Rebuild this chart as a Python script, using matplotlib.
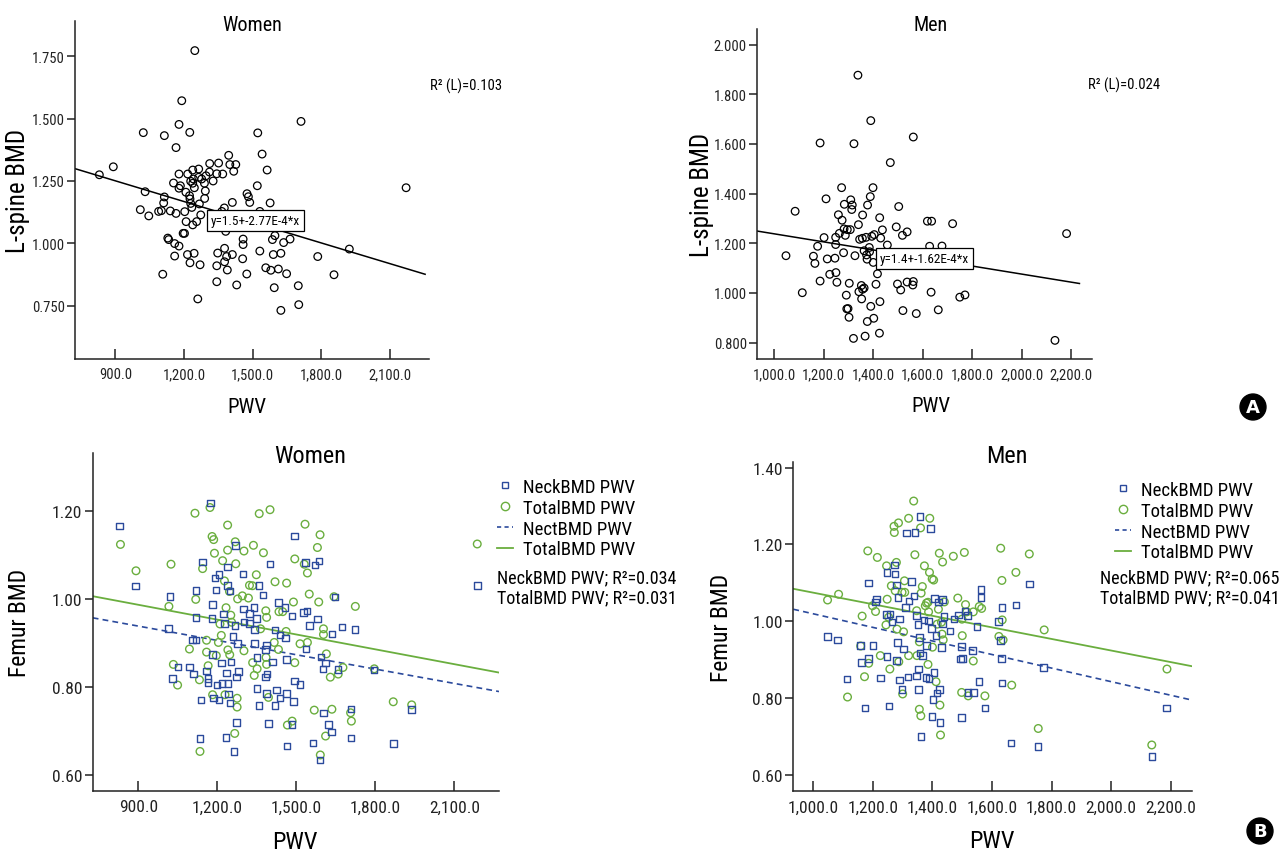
import numpy as np
import matplotlib.pyplot as plt
from matplotlib import font_manager
from matplotlib.lines import Line2D
from matplotlib.ticker import FuncFormatter

# the original uses a condensed sans; take whatever narrow face is installed
_names = {f.name for f in font_manager.fontManager.ttflist}
_stretches = {(f.name, f.stretch) for f in font_manager.fontManager.ttflist}
FONT = None
for cand in ["Liberation Sans Narrow", "Roboto Condensed", "Arial Narrow",
             "Open Sans Condensed", "DejaVu Sans Condensed", "Noto Sans Condensed"]:
    if cand in _names:
        FONT = cand
        break
if FONT is None:
    for name, stretch in sorted(_stretches):
        if stretch in ("condensed", "semi-condensed", 300, 400, 450) and "CJK" not in name:
            FONT = name
            plt.rcParams["font.stretch"] = stretch
            break
if FONT is None:
    FONT = "DejaVu Sans"
plt.rcParams["font.family"] = [FONT, "DejaVu Sans"]

# (PWV, BMD) pairs
women_lspine = np.array([
    (830, 1.275), (891, 1.307), (1022, 1.444), (1030, 1.207), (1009, 1.135), (1046, 1.110),
    (1089, 1.128), (1101, 1.131), (1114, 1.432), (1114, 1.186), (1111, 1.162), (1129, 1.021),
    (1133, 1.015), (1107, 0.876), (1140, 1.130), (1154, 1.242), (1165, 1.120), (1165, 1.384),
    (1159, 0.999), (1159, 0.949), (1178, 0.989), (1178, 1.477), (1178, 1.278), (1178, 1.221),
    (1184, 1.231), (1190, 1.572), (1196, 1.040), (1202, 1.040), (1203, 1.127), (1209, 1.087),
    (1208, 1.205), (1215, 0.955), (1216, 1.278), (1225, 1.445), (1224, 1.191), (1226, 1.178),
    (1229, 1.249), (1229, 1.160), (1234, 1.144), (1226, 0.922), (1238, 1.294), (1238, 1.241),
    (1241, 1.258), (1245, 1.223), (1247, 1.773), (1238, 1.074), (1244, 0.960), (1255, 1.087),
    (1260, 0.777), (1264, 1.298), (1264, 1.265), (1267, 1.158), (1270, 0.914), (1273, 1.114),
    (1277, 1.258), (1289, 1.241), (1293, 1.210), (1290, 1.180), (1296, 1.271), (1312, 1.320),
    (1311, 1.286), (1327, 1.250), (1343, 1.279), (1351, 1.322), (1369, 1.278), (1343, 0.910),
    (1343, 0.846), (1347, 0.961), (1365, 1.128), (1376, 1.142), (1377, 0.980), (1382, 1.048),
    (1377, 0.926), (1386, 0.947), (1389, 0.893), (1395, 1.353), (1400, 1.316), (1411, 1.164),
    (1411, 0.955), (1417, 1.289), (1426, 1.316), (1430, 0.833), (1456, 0.938), (1458, 1.017),
    (1458, 0.995), (1474, 0.877), (1475, 1.199), (1481, 1.187), (1487, 1.164), (1520, 1.231),
    (1522, 1.443), (1541, 1.358), (1531, 0.969), (1557, 0.902), (1563, 1.294), (1576, 1.162),
    (1579, 0.892), (1586, 1.015), (1590, 0.955), (1597, 1.031), (1594, 0.822), (1612, 0.897),
    (1623, 0.960), (1623, 0.731), (1635, 1.003), (1648, 0.878), (1663, 1.017), (1699, 0.830),
    (1701, 0.754), (1711, 1.489), (1784, 0.947), (1855, 0.874), (1922, 0.977), (2170, 1.223),
    (1531, 1.128),
])

men_lspine = np.array([
    (1047, 1.150), (1084, 1.329), (1113, 1.001), (1158, 1.148), (1164, 1.119), (1175, 1.188),
    (1185, 1.048), (1185, 1.604), (1201, 1.223), (1209, 1.379), (1214, 1.137), (1224, 1.075),
    (1245, 1.140), (1248, 1.224), (1248, 1.195), (1249, 1.082), (1253, 1.043), (1259, 1.315),
    (1263, 1.240), (1272, 1.424), (1274, 1.293), (1280, 1.162), (1283, 1.357), (1282, 1.258),
    (1287, 1.232), (1291, 0.991), (1293, 0.936), (1298, 0.937), (1295, 1.255), (1302, 0.902),
    (1303, 1.039), (1307, 1.255), (1309, 1.375), (1313, 1.336), (1315, 1.354), (1320, 0.817),
    (1322, 1.601), (1326, 1.150), (1338, 1.877), (1340, 1.275), (1342, 1.005), (1345, 1.216),
    (1352, 1.030), (1353, 0.976), (1356, 1.220), (1357, 1.314), (1357, 1.015), (1363, 1.020),
    (1367, 0.826), (1371, 1.224), (1363, 1.170), (1373, 1.153), (1377, 1.354), (1375, 1.136),
    (1376, 0.885), (1384, 1.183), (1385, 1.166), (1388, 1.388), (1390, 1.694), (1390, 0.946),
    (1394, 1.228), (1399, 1.424), (1400, 1.123), (1402, 0.898), (1404, 1.235), (1411, 1.035),
    (1417, 1.077), (1425, 0.838), (1427, 0.965), (1426, 1.303), (1430, 1.221), (1437, 1.254),
    (1457, 1.193), (1469, 1.525), (1493, 1.266), (1498, 1.036), (1503, 1.348), (1511, 1.012),
    (1518, 1.232), (1520, 0.929), (1537, 1.246), (1537, 1.044), (1560, 1.032), (1562, 1.046),
    (1562, 1.628), (1574, 0.917), (1619, 1.289), (1636, 1.289), (1628, 1.188), (1634, 1.003),
    (1663, 0.932), (1678, 1.189), (1721, 1.279), (1750, 0.983), (1771, 0.992), (2135, 0.809),
    (2182, 1.239),
])

women_neck = np.array([
    (828, 1.166), (889, 1.029), (1020, 1.006), (1015, 0.933), (1030, 0.819), (1051, 0.845),
    (1094, 0.845), (1109, 0.829), (1106, 0.907), (1119, 0.907), (1118, 1.019), (1118, 0.958),
    (1134, 0.683), (1137, 0.770), (1143, 1.084), (1159, 0.836), (1165, 0.819), (1165, 0.810),
    (1173, 1.218), (1180, 0.956), (1181, 0.873), (1181, 0.987), (1185, 0.775), (1191, 1.048),
    (1195, 1.020), (1199, 0.804), (1206, 1.055), (1206, 0.770), (1215, 0.854), (1218, 0.807),
    (1223, 0.966), (1228, 0.944), (1232, 0.685), (1235, 0.831), (1239, 1.073), (1239, 1.030),
    (1240, 0.808), (1243, 0.784), (1248, 1.018), (1248, 0.763), (1252, 0.857), (1259, 0.915),
    (1263, 0.653), (1267, 0.939), (1268, 1.121), (1272, 0.822), (1273, 0.719), (1277, 0.898),
    (1281, 0.835), (1297, 1.057), (1300, 0.977), (1301, 0.948), (1322, 0.967), (1323, 0.944),
    (1339, 0.980), (1341, 0.898), (1342, 0.931), (1349, 0.956), (1350, 0.867), (1351, 0.796),
    (1358, 1.031), (1359, 0.758), (1373, 1.009), (1382, 0.885), (1383, 0.822), (1386, 0.785),
    (1386, 0.895), (1389, 0.829), (1395, 0.717), (1400, 1.079), (1409, 0.856), (1418, 0.929),
    (1419, 0.757), (1424, 0.793), (1433, 0.992), (1438, 0.918), (1438, 0.775), (1457, 0.981),
    (1459, 0.911), (1463, 0.785), (1463, 0.862), (1465, 0.665), (1484, 0.961), (1484, 0.714),
    (1489, 0.767), (1492, 1.143), (1492, 0.813), (1514, 0.805), (1528, 0.969), (1534, 1.083),
    (1537, 0.886), (1541, 0.973), (1550, 0.940), (1564, 0.672), (1571, 1.077), (1580, 0.954),
    (1586, 1.086), (1590, 0.634), (1593, 0.868), (1601, 0.841), (1603, 0.740), (1610, 0.854),
    (1623, 0.714), (1634, 0.697), (1635, 0.920), (1646, 1.004), (1659, 0.839), (1674, 0.936),
    (1708, 0.684), (1708, 0.750), (1723, 0.930), (1794, 0.838), (1868, 0.671), (1938, 0.749),
    (2187, 1.030),
])

women_total = np.array([
    (832, 1.124), (891, 1.064), (1024, 1.079), (1016, 0.983), (1033, 0.851), (1049, 0.804),
    (1094, 0.886), (1115, 1.195), (1118, 0.999), (1132, 0.816), (1134, 0.653), (1144, 1.069),
    (1159, 0.906), (1159, 0.879), (1165, 0.848), (1172, 1.208), (1180, 1.142), (1186, 1.135),
    (1189, 1.104), (1182, 0.782), (1196, 0.871), (1204, 0.901), (1210, 0.943), (1215, 0.917),
    (1220, 1.087), (1227, 1.041), (1229, 0.782), (1233, 0.980), (1239, 1.168), (1239, 1.111),
    (1240, 0.884), (1246, 1.017), (1247, 0.873), (1251, 0.963), (1254, 0.947), (1266, 0.694),
    (1268, 1.130), (1270, 1.080), (1275, 0.774), (1277, 1.000), (1275, 0.754), (1295, 1.007),
    (1301, 0.882), (1301, 1.109), (1318, 1.002), (1322, 1.031), (1333, 1.030), (1337, 1.122),
    (1334, 0.855), (1340, 0.826), (1348, 1.055), (1351, 0.841), (1359, 1.194), (1364, 0.932),
    (1375, 1.105), (1384, 0.973), (1387, 0.958), (1385, 0.867), (1387, 0.851), (1394, 0.776),
    (1400, 1.203), (1416, 0.901), (1419, 1.039), (1432, 0.885), (1434, 0.971), (1448, 0.971),
    (1461, 0.926), (1463, 1.036), (1466, 0.713), (1484, 0.722), (1489, 0.993), (1494, 0.855),
    (1494, 1.091), (1514, 0.898), (1530, 1.079), (1533, 1.170), (1542, 0.901), (1542, 1.059),
    (1549, 1.011), (1568, 0.747), (1580, 1.117), (1585, 0.993), (1590, 1.146), (1591, 0.645),
    (1603, 0.932), (1603, 0.919), (1611, 0.688), (1614, 0.875), (1629, 0.822), (1635, 0.749),
    (1643, 1.005), (1659, 0.829), (1677, 0.844), (1706, 0.741), (1709, 0.722), (1724, 0.983),
    (1796, 0.841), (1868, 0.766), (1938, 0.759), (2187, 1.125),
])

men_neck = np.array([
    (1048, 0.960), (1082, 0.951), (1114, 0.849), (1159, 0.936), (1162, 0.892), (1174, 0.774),
    (1185, 1.099), (1186, 0.903), (1201, 0.937), (1209, 1.050), (1213, 1.057), (1225, 0.851),
    (1245, 1.017), (1248, 1.127), (1248, 0.908), (1254, 0.779), (1258, 1.018), (1265, 0.997),
    (1272, 1.146), (1275, 1.123), (1279, 1.094), (1279, 0.897), (1282, 0.944), (1285, 1.062),
    (1289, 1.005), (1289, 0.847), (1298, 0.821), (1302, 0.927), (1310, 1.035), (1313, 1.230),
    (1318, 0.854), (1322, 1.052), (1329, 1.103), (1338, 1.066), (1342, 1.231), (1346, 1.014),
    (1347, 0.857), (1352, 0.991), (1353, 0.821), (1354, 0.875), (1356, 0.957), (1358, 1.273),
    (1358, 0.917), (1362, 0.699), (1366, 0.910), (1372, 1.003), (1378, 0.853), (1380, 0.937),
    (1387, 1.000), (1388, 0.850), (1394, 1.242), (1396, 0.981), (1399, 0.751), (1402, 0.795),
    (1405, 0.866), (1406, 1.059), (1412, 0.963), (1415, 0.812), (1421, 1.050), (1423, 0.821),
    (1426, 0.736), (1430, 0.931), (1434, 0.992), (1434, 1.056), (1438, 1.012), (1459, 0.974),
    (1473, 1.005), (1487, 1.016), (1494, 0.901), (1497, 0.934), (1497, 0.749), (1500, 0.903),
    (1510, 1.026), (1517, 1.014), (1519, 0.814), (1535, 0.923), (1537, 0.814), (1550, 0.986),
    (1557, 0.842), (1563, 1.062), (1563, 1.083), (1576, 0.773), (1622, 0.999), (1629, 0.950),
    (1632, 0.903), (1634, 1.036), (1634, 0.838), (1664, 0.682), (1680, 1.042), (1725, 1.097),
    (1755, 0.673), (1773, 0.879), (2136, 0.647), (2185, 0.773),
])

men_total = np.array([
    (1048, 1.055), (1085, 1.070), (1115, 0.802), (1159, 0.935), (1164, 1.013), (1172, 0.855),
    (1183, 1.183), (1186, 0.890), (1199, 1.040), (1209, 1.025), (1215, 1.166), (1225, 0.910),
    (1244, 0.990), (1246, 1.144), (1248, 1.057), (1253, 1.010), (1257, 0.875), (1262, 1.092),
    (1271, 1.247), (1272, 1.231), (1275, 1.079), (1279, 1.153), (1281, 0.979), (1286, 1.256),
    (1287, 0.894), (1298, 1.075), (1300, 0.810), (1303, 0.972), (1306, 1.105), (1307, 1.075),
    (1320, 1.268), (1320, 0.910), (1337, 1.313), (1341, 1.173), (1347, 1.027), (1348, 0.910),
    (1356, 0.946), (1356, 0.770), (1360, 1.243), (1361, 0.753), (1362, 1.073), (1366, 1.090),
    (1373, 1.144), (1376, 1.040), (1380, 1.047), (1385, 1.049), (1385, 0.887), (1387, 1.024),
    (1390, 1.127), (1391, 1.268), (1399, 1.110), (1400, 0.932), (1404, 1.107), (1412, 0.842),
    (1416, 0.992), (1420, 1.031), (1423, 1.177), (1425, 0.781), (1427, 0.703), (1430, 0.997),
    (1432, 0.966), (1434, 1.154), (1436, 0.951), (1440, 1.050), (1470, 1.169), (1485, 1.060),
    (1498, 0.814), (1499, 1.005), (1500, 0.962), (1507, 1.179), (1511, 1.043), (1515, 1.024),
    (1520, 0.805), (1537, 0.896), (1537, 1.024), (1557, 1.038), (1565, 1.033), (1576, 0.805),
    (1623, 0.960), (1629, 1.190), (1633, 1.106), (1634, 1.003), (1637, 0.951), (1666, 0.833),
    (1680, 1.127), (1725, 1.175), (1755, 0.720), (1775, 0.977), (2136, 0.677), (2187, 0.875),
])

# linear fits (intercept, slope)
women_lspine_fit = (1.5, -2.77e-4)
men_lspine_fit = (1.4, -1.62e-4)
women_neck_fit = (1.036, -1.087e-4)
women_total_fit = (1.088, -1.126e-4)
men_neck_fit = (1.196, -1.770e-4)
men_total_fit = (1.225, -1.509e-4)

women_lspine_r2 = "0.103"
men_lspine_r2 = "0.024"
women_femur_r2 = ("0.034", "0.031")
men_femur_r2 = ("0.065", "0.041")

BLUE = "#2b4a9c"
GREEN = "#6aae3e"
W, H = 1287, 853

# a wide fallback face needs smaller text to fit the same room
NARROW = FONT != "DejaVu Sans"
K = 1.0 if NARROW else 0.8


def money(v, pos):
    return f"{v:,.1f}"


def add_panel(fig, box, xlim, ylim, xticks, yticks, ydec, fs):
    l, t, r, b = box
    ax = fig.add_axes([l / W, 1 - b / H, (r - l) / W, (b - t) / H])
    ax.set_xlim(*xlim)
    ax.set_ylim(*ylim)
    for s in ("top", "right"):
        ax.spines[s].set_visible(False)
    for s in ("left", "bottom"):
        ax.spines[s].set_linewidth(1.1)
        ax.spines[s].set_color("#222222")
    ax.set_xticks(xticks)
    ax.set_yticks(yticks)
    ax.xaxis.set_major_formatter(FuncFormatter(money))
    ax.yaxis.set_major_formatter(FuncFormatter(lambda v, p: f"{v:.{ydec}f}"))
    ax.tick_params(axis="x", direction="in", length=7, width=1.1, pad=6,
                   labelsize=fs * K, colors="#222222")
    ax.tick_params(axis="y", direction="out", length=6, width=1.1, pad=1.5,
                   labelsize=fs * K, colors="#222222")
    return ax


def fit_line(ax, fit, x_end, **kw):
    xs = np.array([ax.get_xlim()[0], x_end])
    ax.plot(xs, fit[0] + fit[1] * xs, **kw)


fig = plt.figure(figsize=(12.87, 8.53), dpi=100)
box_style = dict(boxstyle="square,pad=0.3", fc="white", ec="black", lw=0.9)

# ---- A: L-spine BMD -------------------------------------------------
ax1 = add_panel(fig, (75.3, 21.7, 429, 360), (725, 2270), (0.536, 1.893),
                [900, 1200, 1500, 1800, 2100], [0.75, 1.0, 1.25, 1.5, 1.75], 3, 10.5)
ax1.scatter(women_lspine[:, 0], women_lspine[:, 1], s=30, facecolor="none",
            edgecolor="black", linewidth=0.9, zorder=3)
fit_line(ax1, women_lspine_fit, 2253, color="black", lw=1.1, zorder=2)
ax1.text(1317, 1.09, "y=1.5+-2.77E-4*x", fontsize=9.5 * K, va="center", ha="left",
         bbox=box_style, zorder=4)
ax1.text(0.50, 0.99, "Women", transform=ax1.transAxes, ha="center", va="center", fontsize=14.5)
ax1.text(0.486, -0.139, "PWV", transform=ax1.transAxes, ha="center", va="center", fontsize=15)
ax1.text(-0.161, 0.5, "L-spine BMD", transform=ax1.transAxes, ha="center", va="center",
         rotation=90, fontsize=18 * K)

ax2 = add_panel(fig, (757.3, 30, 1092.3, 360), (931, 2286), (0.734, 2.063),
                [1000, 1200, 1400, 1600, 1800, 2000, 2200],
                [0.8, 1.0, 1.2, 1.4, 1.6, 1.8, 2.0], 3, 10.5)
if not NARROW:
    ax2.tick_params(axis="x", labelsize=7.5)
ax2.scatter(men_lspine[:, 0], men_lspine[:, 1], s=30, facecolor="none",
            edgecolor="black", linewidth=0.9, zorder=3)
fit_line(ax2, men_lspine_fit, 2234, color="black", lw=1.1, zorder=2)
ax2.text(1427, 1.137, "y=1.4+-1.62E-4*x", fontsize=9.5 * K, va="center", ha="left",
         bbox=box_style, zorder=4)
ax2.text(0.516, 1.015, "Men", transform=ax2.transAxes, ha="center", va="center", fontsize=14.5)
ax2.text(0.517, -0.142, "PWV", transform=ax2.transAxes, ha="center", va="center", fontsize=15)
ax2.text(-0.165, 0.5, "L-spine BMD", transform=ax2.transAxes, ha="center", va="center",
         rotation=90, fontsize=18 * K)

fig.text(430 / W, 1 - 86 / H, f"R² (L)={women_lspine_r2}", fontsize=10.5 * K, va="center")
fig.text(1088 / W, 1 - 85 / H, f"R² (L)={men_lspine_r2}", fontsize=10.5 * K, va="center")

# ---- B: Femur BMD ---------------------------------------------------
ax3 = add_panel(fig, (92.7, 454, 499, 792), (726.6, 2269.6), (0.563, 1.332),
                [900, 1200, 1500, 1800, 2100], [0.6, 0.8, 1.0, 1.2], 2, 12.5)
ax4 = add_panel(fig, (793.3, 463.3, 1192.3, 792), (933, 2272), (0.557, 1.414),
                [1000, 1200, 1400, 1600, 1800, 2000, 2200], [0.6, 0.8, 1.0, 1.2, 1.4], 2, 12.5)
if not NARROW:
    ax4.tick_params(axis="x", labelsize=9)

for ax, neck, total, nfit, tfit in ((ax3, women_neck, women_total, women_neck_fit, women_total_fit),
                                    (ax4, men_neck, men_total, men_neck_fit, men_total_fit)):
    ax.scatter(total[:, 0], total[:, 1], s=30, marker="o", facecolor="none",
               edgecolor=GREEN, linewidth=1.0, zorder=3)
    ax.scatter(neck[:, 0], neck[:, 1], s=22, marker="s", facecolor="none",
               edgecolor=BLUE, linewidth=1.0, zorder=3)
    fit_line(ax, tfit, ax.get_xlim()[1], color=GREEN, lw=1.3, zorder=2)
    fit_line(ax, nfit, ax.get_xlim()[1], color=BLUE, lw=1.2, ls=(0, (3.5, 2.5)), zorder=2)

ax3.text(0.535, 0.992, "Women", transform=ax3.transAxes, ha="center", va="center", fontsize=17.5)
ax3.text(0.498, -0.148, "PWV", transform=ax3.transAxes, ha="center", va="center", fontsize=17.5)
ax3.text(-0.179, 0.5, "Femur BMD", transform=ax3.transAxes, ha="center", va="center",
         rotation=90, fontsize=17 * K)
ax4.text(0.535, 1.021, "Men", transform=ax4.transAxes, ha="center", va="center", fontsize=17.5)
ax4.text(0.498, -0.152, "PWV", transform=ax4.transAxes, ha="center", va="center", fontsize=17.5)
ax4.text(-0.179, 0.5, "Femur BMD", transform=ax4.transAxes, ha="center", va="center",
         rotation=90, fontsize=17 * K)

handles = [
    Line2D([], [], ls="none", marker="s", ms=5, mfc="none", mec=BLUE, mew=1.0),
    Line2D([], [], ls="none", marker="o", ms=6, mfc="none", mec=GREEN, mew=1.0),
    Line2D([], [], color=BLUE, lw=1.2, ls=(0, (2.5, 2))),
    Line2D([], [], color=GREEN, lw=1.3),
]
labels = ["NeckBMD PWV", "TotalBMD PWV", "NectBMD PWV", "TotalBMD PWV"]

for ax, anchor, r2, tx in ((ax3, (497, 479), women_femur_r2, 497),
                          (ax4, (1115, 482), men_femur_r2, 1100)):
    ax.legend(handles, labels, loc="upper left",
              bbox_to_anchor=(anchor[0] / W, 1 - anchor[1] / H),
              bbox_transform=fig.transFigure, frameon=False, fontsize=13.5 * K,
              handlelength=0.85, handletextpad=0.55, labelspacing=0.15,
              borderpad=0, borderaxespad=0)
    fig.text(tx / W, 1 - 578 / H, f"NeckBMD PWV; R²={r2[0]}", fontsize=13 * K, va="center")
    fig.text(tx / W, 1 - 598 / H, f"TotalBMD PWV; R²={r2[1]}", fontsize=13 * K, va="center")

# panel letters
for (px, py), letter in (((1253, 408), "A"), ((1260, 832), "B")):
    fig.text(px / W, 1 - py / H, letter, color="white", fontsize=13, fontweight="bold",
             ha="center", va="center", family="DejaVu Sans",
             bbox=dict(boxstyle="circle,pad=0.22", fc="black", ec="black"))

fig.savefig("out.png", dpi=100)
